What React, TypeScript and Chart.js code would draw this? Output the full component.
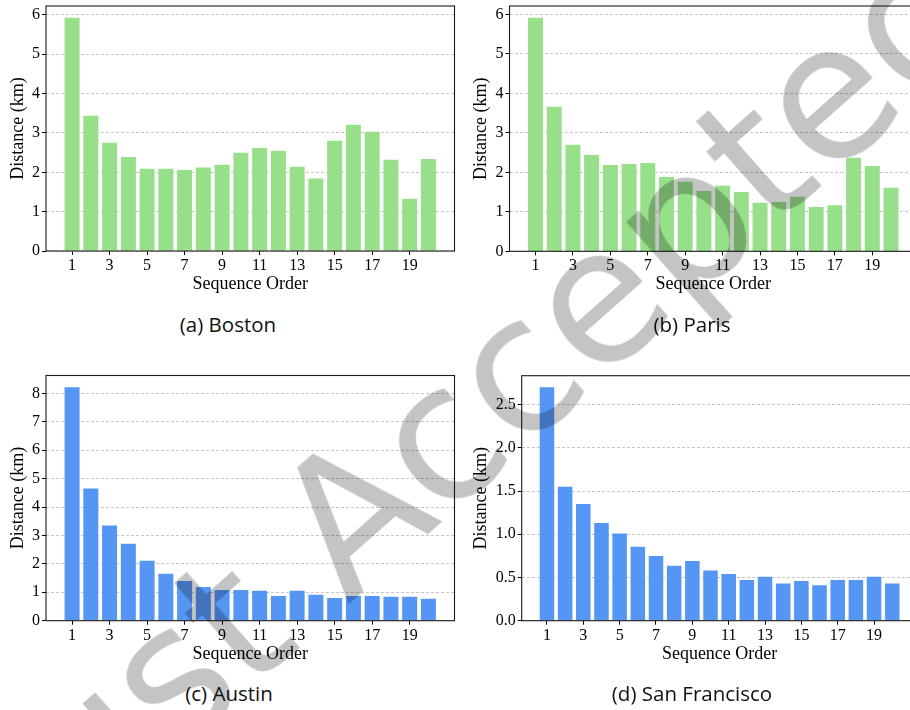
import React, { useEffect, useRef } from "react";
import { Chart, registerables } from "chart.js";

Chart.register(...registerables);

// ---------- data ----------
const sequenceOrder = [1, 2, 3, 4, 5, 6, 7, 8, 9, 10, 11, 12, 13, 14, 15, 16, 17, 18, 19, 20];
const xTickValues = [1, 3, 5, 7, 9, 11, 13, 15, 17, 19];

const bostonDistances = [5.93, 3.44, 2.75, 2.39, 2.09, 2.09, 2.06, 2.12, 2.19, 2.5, 2.62, 2.55, 2.14, 1.84, 2.8, 3.21, 3.03, 2.32, 1.33, 2.34];
const parisDistances = [5.92, 3.66, 2.7, 2.44, 2.19, 2.21, 2.24, 1.88, 1.76, 1.53, 1.66, 1.5, 1.23, 1.25, 1.38, 1.12, 1.17, 2.37, 2.16, 1.61];
const austinDistances = [8.22, 4.65, 3.35, 2.71, 2.11, 1.65, 1.4, 1.19, 1.08, 1.08, 1.05, 0.87, 1.05, 0.91, 0.8, 0.87, 0.87, 0.84, 0.84, 0.77];
const sanFranciscoDistances = [2.7, 1.55, 1.35, 1.13, 1.01, 0.855, 0.75, 0.635, 0.69, 0.58, 0.54, 0.47, 0.51, 0.43, 0.46, 0.41, 0.47, 0.47, 0.51, 0.43];

const yTicksSixKm = [0, 1, 2, 3, 4, 5, 6];
const yTicksEightKm = [0, 1, 2, 3, 4, 5, 6, 7, 8];
const yTicksSanFrancisco = [0, 0.5, 1.0, 1.5, 2.0, 2.5];

const captions = ["(a) Boston", "(b) Paris", "(c) Austin", "(d) San Francisco"];
const xAxisTitle = "Sequence Order";
const yAxisTitle = "Distance (km)";
const watermarkText = "Just Accepted";

// ---------- style ----------
const GREEN = "#98df8a";
const BLUE = "#5596f5";
const SERIF = "'Liberation Serif', 'Times New Roman', serif";
const CAPTION_FONT = "'Open Sans', 'DejaVu Sans', sans-serif";

type PanelSpec = {
  values: number[];
  yTicks: number[];
  decimals: number;
  color: string;
  left: number;
  top: number;
  width: number;
  height: number;
  padTop: number;
  padRight: number;
  yAxisWidth: number;
  xAxisHeight: number;
  yTitlePad: number;
};

const panels: PanelSpec[] = [
  { values: bostonDistances, yTicks: yTicksSixKm, decimals: 0, color: GREEN, left: 0, top: 0, width: 462, height: 300, padTop: 6, padRight: 7.5, yAxisWidth: 46, xAxisHeight: 49, yTitlePad: 7.7 },
  { values: parisDistances, yTicks: yTicksSixKm, decimals: 0, color: GREEN, left: 455, top: 0, width: 470, height: 300, padTop: 6, padRight: 8, yAxisWidth: 54.5, xAxisHeight: 48.7, yTitlePad: 15.2 },
  { values: austinDistances, yTicks: yTicksEightKm, decimals: 0, color: BLUE, left: 0, top: 360, width: 462, height: 310, padTop: 15.5, padRight: 7.5, yAxisWidth: 46, xAxisHeight: 49.3, yTitlePad: 7.7 },
  { values: sanFranciscoDistances, yTicks: yTicksSanFrancisco, decimals: 1, color: BLUE, left: 455, top: 360, width: 470, height: 310, padTop: 15.7, padRight: 7.5, yAxisWidth: 66.7, xAxisHeight: 49.3, yTitlePad: 15.2 },
];

const captionPositions = [
  { x: 228, y: 324 },
  { x: 692, y: 324 },
  { x: 229, y: 693 },
  { x: 692, y: 693 },
];

const framePlugin = {
  id: "frame",
  afterDraw(chart: any) {
    const { ctx, chartArea: a } = chart;
    ctx.save();
    ctx.strokeStyle = "#1a1a1a";
    ctx.lineWidth = 1.1;
    ctx.strokeRect(a.left, a.top, a.right - a.left, a.bottom - a.top);
    ctx.restore();
  },
};

function BarPanel({ spec }: { spec: PanelSpec }) {
  const ref = useRef<HTMLCanvasElement | null>(null);
  useEffect(() => {
    if (!ref.current) return;
    const n = sequenceOrder.length;
    const span = sequenceOrder[n - 1] - sequenceOrder[0] + 0.8;
    const xMin = sequenceOrder[0] - 0.4 - 0.05 * span;
    const xMax = sequenceOrder[n - 1] + 0.4 + 0.05 * span;
    const yMax = Math.max(...spec.values) * 1.05;
    const chart = new Chart(ref.current, {
      type: "bar",
      data: {
        datasets: [
          {
            data: sequenceOrder.map((x, i) => ({ x, y: spec.values[i] })),
            backgroundColor: spec.color,
            borderWidth: 0,
            barPercentage: 0.8,
            categoryPercentage: 1,
          } as any,
        ],
      },
      options: {
        animation: false,
        responsive: false,
        maintainAspectRatio: false,
        layout: { padding: { top: spec.padTop, right: spec.padRight, left: 0, bottom: 0 } },
        plugins: { legend: { display: false }, tooltip: { enabled: false } },
        scales: {
          x: {
            type: "linear",
            min: xMin,
            max: xMax,
            offset: false,
            afterBuildTicks: (s: any) => {
              s.ticks = xTickValues.map((v) => ({ value: v }));
            },
            afterFit: (s: any) => {
              s.height = spec.xAxisHeight;
              s.paddingLeft = 0;
              s.paddingRight = 0;
            },
            grid: { offset: false, drawOnChartArea: false, drawTicks: true, tickLength: 4, tickColor: "#000", tickWidth: 1 },
            border: { display: false },
            ticks: {
              autoSkip: false,
              maxRotation: 0,
              padding: 1,
              color: "#000",
              font: { family: SERIF, size: 16 },
              callback: (v: any) => String(v),
            },
            title: {
              display: true,
              text: xAxisTitle,
              color: "#000",
              font: { family: SERIF, size: 18, lineHeight: 1.2 },
              padding: { top: 0, bottom: 5.2 },
            },
          },
          y: {
            min: 0,
            max: yMax,
            afterBuildTicks: (s: any) => {
              s.ticks = spec.yTicks.map((v) => ({ value: v }));
            },
            afterFit: (s: any) => {
              s.width = spec.yAxisWidth;
              s.paddingTop = 0;
              s.paddingBottom = 0;
            },
            grid: { color: "#b8b8b8", lineWidth: 0.8, drawTicks: true, tickLength: 4, tickColor: "#000", tickWidth: 1, tickBorderDash: [] },
            border: { display: false, dash: [3, 2] },
            ticks: {
              padding: 2,
              color: "#000",
              font: { family: SERIF, size: 16 },
              callback: (v: any) => Number(v).toFixed(spec.decimals),
            },
            title: {
              display: true,
              text: yAxisTitle,
              color: "#000",
              font: { family: SERIF, size: 18, lineHeight: 1.2 },
              padding: { top: spec.yTitlePad, bottom: 0 },
            },
          },
        },
      } as any,
      plugins: [framePlugin],
    });
    return () => chart.destroy();
  }, [spec]);
  return (
    <canvas
      ref={ref}
      width={spec.width}
      height={spec.height}
      style={{ position: "absolute", left: spec.left, top: spec.top, width: spec.width, height: spec.height, display: "block" }}
    />
  );
}

export default function App() {
  return (
    <div
      style={{
        position: "fixed",
        left: 0,
        top: 0,
        width: 910,
        height: 710,
        overflow: "hidden",
        background: "#fff",
        isolation: "isolate",
      }}
    >
      {panels.map((p, i) => (
        <BarPanel key={i} spec={p} />
      ))}
      {captions.map((c, i) => (
        <div
          key={c}
          style={{
            position: "absolute",
            left: captionPositions[i].x - 150,
            top: captionPositions[i].y - 12,
            width: 300,
            height: 24,
            lineHeight: "24px",
            textAlign: "center",
            fontFamily: CAPTION_FONT,
            fontSize: 20.5,
            color: "#111",
            whiteSpace: "nowrap",
          }}
        >
          {c}
        </div>
      ))}
      <div
        style={{
          position: "absolute",
          left: 480,
          top: 402,
          transform: "translate(-50%, -50%) rotate(-41.5deg)",
          fontFamily: "'DejaVu Sans', sans-serif",
          fontSize: 187,
          lineHeight: 1,
          color: "#c4c4c4",
          mixBlendMode: "multiply",
          whiteSpace: "nowrap",
          pointerEvents: "none",
        }}
      >
        {watermarkText}
      </div>
    </div>
  );
}
